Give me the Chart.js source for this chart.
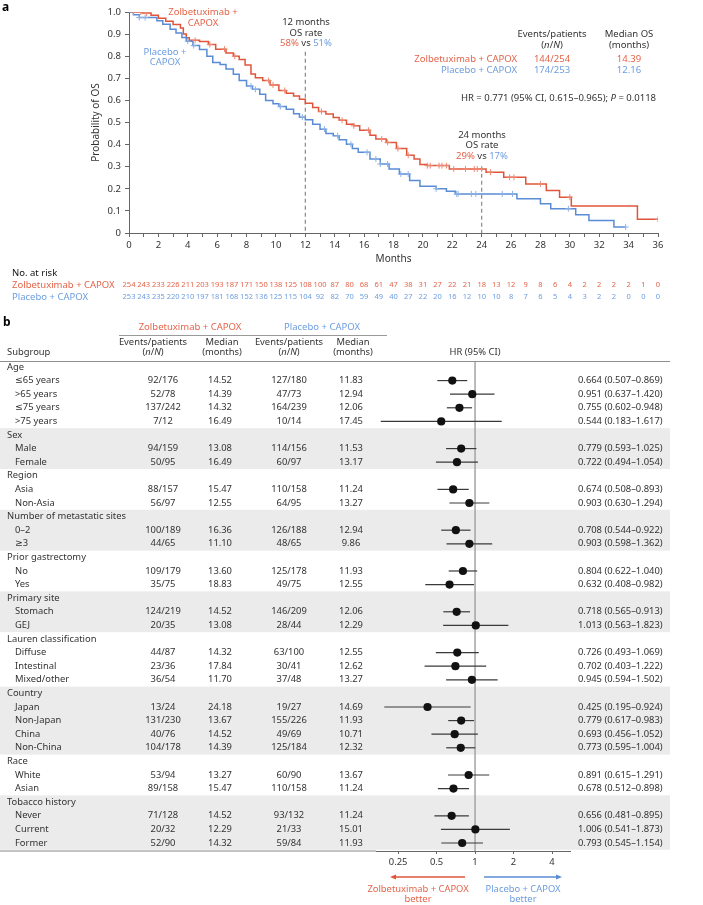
<!DOCTYPE html>
<html>
<head>
<meta charset="utf-8">
<script src="https://cdn.jsdelivr.net/npm/chart.js"></script>
<style>
  body { margin: 0; background: #fff; }
  #wrap { position: relative; width: 703px; height: 905px; }
  canvas { position: absolute; left: 0; }
</style>
</head>
<body>
<div id="wrap">
  <canvas id="km" width="703" height="310" style="top:0"></canvas>
  <canvas id="forest" width="703" height="595" style="top:310px"></canvas>
</div>
<script>
// ---- panel a: Kaplan-Meier data ----
const zolbeTime = [0, 0.9, 1.5, 2.0, 2.5, 3.0, 3.5, 3.7, 3.9, 4.1, 4.8, 5.4, 5.9, 6.6, 7.1, 7.5, 7.9, 8.3, 8.6, 9.1, 9.6, 10.2, 10.7, 11.2, 11.6, 12.0, 12.5, 12.9, 13.4, 13.9, 14.3, 14.8, 15.3, 15.7, 16.4, 16.8, 17.5, 18.2, 18.9, 19.4, 19.8, 20.3, 21.8, 24.3, 25.5, 27.0, 28.4, 29.3, 30.1, 34.6, 36.0];
const zolbeSurv = [1.0, 0.995, 0.985, 0.972, 0.958, 0.943, 0.928, 0.900, 0.883, 0.872, 0.866, 0.853, 0.832, 0.815, 0.800, 0.785, 0.760, 0.720, 0.703, 0.690, 0.670, 0.645, 0.632, 0.620, 0.605, 0.587, 0.568, 0.550, 0.538, 0.523, 0.510, 0.492, 0.485, 0.465, 0.442, 0.425, 0.410, 0.382, 0.352, 0.335, 0.310, 0.305, 0.290, 0.275, 0.252, 0.222, 0.192, 0.162, 0.122, 0.062, 0.062];
const placeboTime = [0, 0.3, 0.7, 1.9, 2.3, 2.8, 3.2, 3.6, 3.9, 4.35, 4.8, 5.3, 5.7, 6.2, 6.6, 7.1, 7.5, 8.0, 8.4, 8.9, 9.3, 9.8, 10.2, 10.7, 11.2, 11.6, 12.0, 12.5, 13.0, 13.4, 13.9, 14.3, 14.8, 15.2, 15.6, 16.4, 17.1, 17.7, 18.4, 19.1, 19.8, 20.9, 21.6, 22.2, 26.4, 28.0, 28.7, 30.4, 31.3, 33.0, 33.8];
const placeboSurv = [1.0, 0.988, 0.975, 0.960, 0.945, 0.922, 0.905, 0.885, 0.868, 0.848, 0.830, 0.800, 0.772, 0.762, 0.742, 0.718, 0.690, 0.665, 0.650, 0.628, 0.600, 0.585, 0.572, 0.560, 0.540, 0.524, 0.512, 0.492, 0.470, 0.450, 0.440, 0.422, 0.402, 0.382, 0.365, 0.335, 0.312, 0.290, 0.267, 0.237, 0.212, 0.200, 0.189, 0.177, 0.155, 0.132, 0.110, 0.083, 0.057, 0.027, 0.027];
const zolbeCensor = [0.3, 0.8, 1.2, 4.5, 5.5, 6.5, 7.2, 9.5, 9.8, 10.6, 13.1, 14.5, 15.3, 16.3, 17.2, 17.6, 18.3, 19.0, 20.3, 20.5, 21.1, 21.3, 21.6, 22.1, 22.9, 23.5, 23.7, 24.0, 24.6, 25.9, 26.2, 28.0, 30.0, 36.0];
const placeboCensor = [0.7, 1.1, 4.0, 4.4, 8.3, 8.6, 10.3, 11.8, 13.3, 14.2, 15.1, 16.2, 16.8, 17.1, 17.6, 18.5, 19.0, 20.9, 22.3, 22.4, 23.3, 23.6, 25.4, 26.1, 29.9, 33.8];

const riskMonths = Array.from({ length: 37 }, (_, i) => i);
const zolbeRisk = [254, 243, 233, 226, 211, 203, 193, 187, 171, 150, 138, 125, 108, 100, 87, 80, 68, 61, 47, 38, 31, 27, 22, 21, 18, 13, 12, 9, 8, 6, 4, 2, 2, 2, 2, 1, 0];
const placeboRisk = [253, 243, 235, 220, 210, 197, 181, 168, 152, 136, 125, 115, 104, 92, 82, 70, 59, 49, 40, 27, 22, 20, 16, 12, 10, 10, 8, 7, 6, 5, 4, 3, 2, 2, 0, 0, 0];

// ---- panel b: subgroup forest data ----
const groupNames = ['Age', 'Sex', 'Region', 'Number of metastatic sites', 'Prior gastrectomy', 'Primary site', 'Lauren classification', 'Country', 'Race', 'Tobacco history'];
const groupSizes = [4, 2, 2, 2, 2, 2, 3, 4, 2, 3];
const subgroupNames = ['≤65 years', '>65 years', '≤75 years', '>75 years', 'Male', 'Female', 'Asia', 'Non-Asia', '0–2', '≥3', 'No', 'Yes', 'Stomach', 'GEJ', 'Diffuse', 'Intestinal', 'Mixed/other', 'Japan', 'Non-Japan', 'China', 'Non-China', 'White', 'Asian', 'Never', 'Current', 'Former'];
const zolbeEvents = ['92/176', '52/78', '137/242', '7/12', '94/159', '50/95', '88/157', '56/97', '100/189', '44/65', '109/179', '35/75', '124/219', '20/35', '44/87', '23/36', '36/54', '13/24', '131/230', '40/76', '104/178', '53/94', '89/158', '71/128', '20/32', '52/90'];
const zolbeMedian = ['14.52', '14.39', '14.32', '16.49', '13.08', '16.49', '15.47', '12.55', '16.36', '11.10', '13.60', '18.83', '14.52', '13.08', '14.32', '17.84', '11.70', '24.18', '13.67', '14.52', '14.39', '13.27', '15.47', '14.52', '12.29', '14.32'];
const placeboEvents = ['127/180', '47/73', '164/239', '10/14', '114/156', '60/97', '110/158', '64/95', '126/188', '48/65', '125/178', '49/75', '146/209', '28/44', '63/100', '30/41', '37/48', '19/27', '155/226', '49/69', '125/184', '60/90', '110/158', '93/132', '21/33', '59/84'];
const placeboMedian = ['11.83', '12.94', '12.06', '17.45', '11.53', '13.17', '11.24', '13.27', '12.94', '9.86', '11.93', '12.55', '12.06', '12.29', '12.55', '12.62', '13.27', '14.69', '11.93', '10.71', '12.32', '13.67', '11.24', '11.24', '15.01', '11.93'];
const hrValue = [0.664, 0.951, 0.755, 0.544, 0.779, 0.722, 0.674, 0.903, 0.708, 0.903, 0.804, 0.632, 0.718, 1.013, 0.726, 0.702, 0.945, 0.425, 0.779, 0.693, 0.773, 0.891, 0.678, 0.656, 1.006, 0.793];
const hrLow = [0.507, 0.637, 0.602, 0.183, 0.593, 0.494, 0.508, 0.630, 0.544, 0.598, 0.622, 0.408, 0.565, 0.563, 0.493, 0.403, 0.594, 0.195, 0.617, 0.456, 0.595, 0.615, 0.512, 0.481, 0.541, 0.545];
const hrHigh = [0.869, 1.420, 0.948, 1.617, 1.025, 1.054, 0.893, 1.294, 0.922, 1.362, 1.040, 0.982, 0.913, 1.823, 1.069, 1.222, 1.502, 0.924, 0.983, 1.052, 1.004, 1.291, 0.898, 0.895, 1.873, 1.154];
const hrTicks = [0.25, 0.5, 1, 2, 4];

const RED = '#e0553a';
const RED_TEXT = '#e4644a';
const RED_LIGHT = '#ec8a74';
const BLUE = '#5a8cd6';
const BLUE_TEXT = '#6d9de0';
const BLUE_LIGHT = '#8db2e6';
const DARK = '#333';
const FONT = '"Noto Sans", "DejaVu Sans", sans-serif';

function font(size, italic, bold) {
    return `${italic ? 'italic ' : ''}${bold ? 'bold ' : ''}${size}px ${FONT}`;
}

// draw a line of text made of several coloured / italic pieces
function drawRich(ctx, parts, x, y, align, size) {
    const widths = parts.map(p => { ctx.font = font(size, p[2]); return ctx.measureText(p[0]).width; });
    const total = widths.reduce((a, b) => a + b, 0);
    let cx = align === 'center' ? x - total / 2 : align === 'right' ? x - total : x;
    ctx.textAlign = 'left';
    ctx.textBaseline = 'middle';
    parts.forEach((p, i) => {
        ctx.font = font(size, p[2]);
        ctx.fillStyle = p[1];
        ctx.fillText(p[0], cx, y);
        cx += widths[i];
    });
}

function toPoints(times, surv) {
    return times.map((t, i) => ({ x: t, y: surv[i] }));
}

// survival value at a censor time, looked up from the step data
function censorPoints(censor, times, surv) {
    return censor.map(t => {
        let s = surv[0];
        for (let i = 0; i < times.length; i++) if (times[i] <= t) s = surv[i];
        return { x: t, y: s };
    });
}

// ---------- panel a ----------
const kmText = {
    id: 'kmText',
    beforeDatasetsDraw(chart) {
        const { ctx, scales: { x, y } } = chart;
        ctx.save();
        ctx.strokeStyle = '#8a8a8a';
        ctx.lineWidth = 1.2;
        ctx.setLineDash([4, 3]);
        [[12, 0.82], [24, 0.30]].forEach(([m, top]) => {
            ctx.beginPath();
            ctx.moveTo(x.getPixelForValue(m), y.getPixelForValue(top));
            ctx.lineTo(x.getPixelForValue(m), y.getPixelForValue(0));
            ctx.stroke();
        });
        ctx.restore();
    },
    afterDraw(chart) {
        const { ctx, scales: { x } } = chart;
        ctx.save();
        const s = 9.5;
        ctx.font = font(12, false, true);
        ctx.fillStyle = '#000';
        ctx.textAlign = 'left';
        ctx.textBaseline = 'middle';
        ctx.fillText('a', 2, 8);

        drawRich(ctx, [['Zolbetuximab +', RED_TEXT]], 203, 12.5, 'center', s);
        drawRich(ctx, [['CAPOX', RED_TEXT]], 203, 23, 'center', s);
        drawRich(ctx, [['Placebo +', BLUE_TEXT]], 165, 52, 'center', s);
        drawRich(ctx, [['CAPOX', BLUE_TEXT]], 165, 62, 'center', s);

        drawRich(ctx, [['12 months', DARK]], 306, 22.5, 'center', s);
        drawRich(ctx, [['OS rate', DARK]], 306, 33, 'center', s);
        drawRich(ctx, [['58%', RED_TEXT], [' vs ', DARK], ['51%', BLUE_TEXT]], 306, 43, 'center', s);
        drawRich(ctx, [['24 months', DARK]], 482, 135, 'center', s);
        drawRich(ctx, [['OS rate', DARK]], 482, 145.7, 'center', s);
        drawRich(ctx, [['29%', RED_TEXT], [' vs ', DARK], ['17%', BLUE_TEXT]], 482, 156, 'center', s);

        drawRich(ctx, [['Events/patients', DARK]], 552, 34.5, 'center', s);
        drawRich(ctx, [['(', DARK], ['n', DARK, true], ['/', DARK], ['N', DARK, true], [')', DARK]], 552, 45, 'center', s);
        drawRich(ctx, [['Median OS', DARK]], 629, 34.5, 'center', s);
        drawRich(ctx, [['(months)', DARK]], 629, 45, 'center', s);
        drawRich(ctx, [['Zolbetuximab + CAPOX', RED_TEXT]], 517, 59, 'right', s);
        drawRich(ctx, [['144/254', RED_TEXT]], 552, 59, 'center', s);
        drawRich(ctx, [['14.39', RED_TEXT]], 629, 59, 'center', s);
        drawRich(ctx, [['Placebo + CAPOX', BLUE_TEXT]], 517, 70, 'right', s);
        drawRich(ctx, [['174/253', BLUE_TEXT]], 552, 70, 'center', s);
        drawRich(ctx, [['12.16', BLUE_TEXT]], 629, 70, 'center', s);
        drawRich(ctx, [['HR = 0.771 (95% CI, 0.615–0.965); ', DARK], ['P', DARK, true], [' = 0.0118', DARK]], 656, 98, 'right', s);

        // number at risk
        drawRich(ctx, [['No. at risk', '#111']], 12, 273, 'left', s);
        drawRich(ctx, [['Zolbetuximab + CAPOX', RED_TEXT]], 12, 285, 'left', s);
        drawRich(ctx, [['Placebo + CAPOX', BLUE_TEXT]], 12, 297, 'left', s);
        ctx.font = font(7.5);
        ctx.textAlign = 'center';
        ctx.textBaseline = 'middle';
        riskMonths.forEach((m, i) => {
            const px = x.getPixelForValue(m);
            ctx.fillStyle = RED_TEXT;
            ctx.fillText(String(zolbeRisk[i]), px, 285);
            ctx.fillStyle = BLUE_TEXT;
            ctx.fillText(String(placeboRisk[i]), px, 297);
        });
        ctx.restore();
    }
};

new Chart(document.getElementById('km'), {
    type: 'scatter',
    data: {
        datasets: [
            { data: censorPoints(zolbeCensor, zolbeTime, zolbeSurv), showLine: false, pointStyle: 'cross', pointRadius: 3, borderColor: RED_LIGHT, borderWidth: 1 },
            { data: censorPoints(placeboCensor, placeboTime, placeboSurv), showLine: false, pointStyle: 'cross', pointRadius: 3, borderColor: BLUE_LIGHT, borderWidth: 1 },
            { data: toPoints(placeboTime, placeboSurv), showLine: true, stepped: 'before', borderColor: BLUE, borderWidth: 1.5, pointRadius: 0 },
            { data: toPoints(zolbeTime, zolbeSurv), showLine: true, stepped: 'before', borderColor: RED, borderWidth: 1.5, pointRadius: 0 }
        ]
    },
    options: {
        responsive: false,
        animation: false,
        layout: { padding: { left: 90, right: 45, top: 12, bottom: 45 } },
        plugins: { legend: { display: false }, tooltip: { enabled: false } },
        scales: {
            x: {
                type: 'linear', min: 0, max: 36,
                ticks: { stepSize: 1, autoSkip: false, maxRotation: 0, padding: 3, color: DARK, font: { family: FONT, size: 9.5 },
                    callback: v => (v % 2 === 0 ? String(v) : '') },
                grid: { drawOnChartArea: false, tickLength: 4, color: '#666' },
                border: { color: '#666' },
                title: { display: true, text: 'Months', color: DARK, padding: 0, font: { family: FONT, size: 10 } },
                afterFit: s => { s.height = 32; }
            },
            y: {
                min: 0, max: 1,
                ticks: { stepSize: 0.1, padding: 4, color: DARK, font: { family: FONT, size: 9.5 },
                    callback: v => (v === 0 ? '0' : v.toFixed(1)) },
                grid: { drawOnChartArea: false, tickLength: 4, color: '#666' },
                border: { color: '#666' },
                title: { display: true, text: 'Probability of OS', color: DARK, padding: 0, font: { family: FONT, size: 10 } },
                afterFit: s => { s.width = 39; }
            }
        }
    },
    plugins: [kmText]
});

// ---------- panel b ----------
const rows = [];
let k = 0;
groupNames.forEach((g, gi) => {
    rows.push({ label: g, group: gi, header: true });
    for (let j = 0; j < groupSizes[gi]; j++) {
        rows.push({ label: subgroupNames[k], group: gi, idx: k });
        k++;
    }
});
rows.forEach((r, i) => { r.row = i; });
const itemRows = rows.filter(r => !r.header);

const TOP = 10; // canvas starts 10px above the panel b header

const forestDecor = {
    id: 'forestDecor',
    beforeDraw(chart) {
        const { ctx, scales: { y }, chartArea } = chart;
        ctx.save();
        ctx.fillStyle = '#ebebeb';
        groupNames.forEach((g, gi) => {
            if (gi % 2 === 0) return;
            const gr = rows.filter(r => r.group === gi);
            const y0 = y.getPixelForValue(gr[0].row - 0.5);
            const y1 = Math.min(y.getPixelForValue(gr[gr.length - 1].row + 0.5), chartArea.bottom);
            ctx.fillRect(0, y0, 670, y1 - y0);
        });
        ctx.restore();
    },
    beforeDatasetsDraw(chart) {
        const { ctx, scales: { x, y }, chartArea } = chart;
        ctx.save();
        // reference line at HR = 1
        ctx.strokeStyle = '#a3a3a3';
        ctx.lineWidth = 1.5;
        ctx.beginPath();
        ctx.moveTo(x.getPixelForValue(1), chartArea.top);
        ctx.lineTo(x.getPixelForValue(1), chartArea.bottom);
        ctx.stroke();
        // confidence intervals
        ctx.strokeStyle = '#3a3a3a';
        ctx.lineWidth = 1.2;
        itemRows.forEach(r => {
            const py = y.getPixelForValue(r.row);
            ctx.beginPath();
            ctx.moveTo(x.getPixelForValue(hrLow[r.idx]), py);
            ctx.lineTo(x.getPixelForValue(hrHigh[r.idx]), py);
            ctx.stroke();
        });
        ctx.restore();
    },
    afterDraw(chart) {
        const { ctx, scales: { x, y }, chartArea } = chart;
        const s = 9.4;
        ctx.save();
        ctx.font = font(12, false, true);
        ctx.fillStyle = '#000';
        ctx.textAlign = 'left';
        ctx.textBaseline = 'middle';
        ctx.fillText('b', 3, TOP + 3);

        // header
        drawRich(ctx, [['Zolbetuximab + CAPOX', RED_TEXT]], 190, TOP + 7, 'center', 9.5);
        drawRich(ctx, [['Placebo + CAPOX', BLUE_TEXT]], 322, TOP + 7, 'center', 9.5);
        ctx.strokeStyle = '#9a9a9a';
        ctx.lineWidth = 1;
        ctx.beginPath();
        ctx.moveTo(119, TOP + 15.5);
        ctx.lineTo(387, TOP + 15.5);
        ctx.stroke();
        [[153, 222], [289, 353]].forEach(([ev, md]) => {
            drawRich(ctx, [['Events/patients', DARK]], ev, TOP + 22, 'center', s);
            drawRich(ctx, [['(', DARK], ['n', DARK, true], ['/', DARK], ['N', DARK, true], [')', DARK]], ev, TOP + 32, 'center', s);
            drawRich(ctx, [['Median', DARK]], md, TOP + 22, 'center', s);
            drawRich(ctx, [['(months)', DARK]], md, TOP + 32, 'center', s);
        });
        drawRich(ctx, [['Subgroup', DARK]], 7, TOP + 32, 'left', s);
        drawRich(ctx, [['HR (95% CI)', DARK]], x.getPixelForValue(1), TOP + 32, 'center', s);

        ctx.strokeStyle = '#8f8f8f';
        ctx.lineWidth = 1;
        ctx.beginPath();
        ctx.moveTo(0, chartArea.top + 0.5);
        ctx.lineTo(670, chartArea.top + 0.5);
        ctx.stroke();
        ctx.strokeStyle = '#b0b0b0';
        ctx.lineWidth = 1.5;
        ctx.beginPath();
        ctx.moveTo(0, chartArea.bottom);
        ctx.lineTo(chartArea.left, chartArea.bottom);
        ctx.stroke();

        // rows
        rows.forEach(r => {
            const py = y.getPixelForValue(r.row);
            if (r.header) {
                drawRich(ctx, [[r.label, DARK]], 7, py, 'left', s);
                return;
            }
            const i = r.idx;
            drawRich(ctx, [[r.label, DARK]], 15, py, 'left', s);
            drawRich(ctx, [[zolbeEvents[i], DARK]], 163, py, 'center', s);
            drawRich(ctx, [[zolbeMedian[i], DARK]], 220, py, 'center', s);
            drawRich(ctx, [[placeboEvents[i], DARK]], 289, py, 'center', s);
            drawRich(ctx, [[placeboMedian[i], DARK]], 351, py, 'center', s);
            const txt = `${hrValue[i].toFixed(3)} (${hrLow[i].toFixed(3)}–${hrHigh[i].toFixed(3)})`;
            drawRich(ctx, [[txt, DARK]], 578, py, 'left', s);
        });

        // favour arrows
        const x1 = x.getPixelForValue(1);
        const ay = chartArea.bottom + 26;
        function arrow(from, to, color) {
            const dir = Math.sign(to - from);
            ctx.strokeStyle = color;
            ctx.fillStyle = color;
            ctx.lineWidth = 1.3;
            ctx.beginPath();
            ctx.moveTo(from, ay);
            ctx.lineTo(to - dir * 4, ay);
            ctx.stroke();
            ctx.beginPath();
            ctx.moveTo(to, ay);
            ctx.lineTo(to - dir * 6, ay - 2.5);
            ctx.lineTo(to - dir * 6, ay + 2.5);
            ctx.closePath();
            ctx.fill();
        }
        arrow(x1 - 10, x1 - 85, RED);
        arrow(x1 + 9, x1 + 87, BLUE);
        drawRich(ctx, [['Zolbetuximab + CAPOX', RED_TEXT]], x1 - 57, ay + 12, 'center', s);
        drawRich(ctx, [['better', RED_TEXT]], x1 - 57, ay + 22, 'center', s);
        drawRich(ctx, [['Placebo + CAPOX', BLUE_TEXT]], x1 + 48, ay + 12, 'center', s);
        drawRich(ctx, [['better', BLUE_TEXT]], x1 + 48, ay + 22, 'center', s);
        ctx.restore();
    }
};

new Chart(document.getElementById('forest'), {
    type: 'scatter',
    data: {
        datasets: [{
            data: itemRows.map(r => ({ x: hrValue[r.idx], y: r.row })),
            pointRadius: 4.1,
            backgroundColor: '#111',
            borderColor: '#111',
            borderWidth: 0
        }]
    },
    options: {
        responsive: false,
        animation: false,
        layout: { padding: { left: 376, right: 133, top: 51, bottom: 34 } },
        plugins: { legend: { display: false }, tooltip: { enabled: false } },
        scales: {
            x: {
                type: 'logarithmic', min: 0.168, max: 5.53,
                afterBuildTicks: s => { s.ticks = hrTicks.map(v => ({ value: v })); },
                ticks: { autoSkip: false, maxRotation: 0, padding: 3, color: DARK, font: { family: FONT, size: 9.4 },
                    callback: v => String(v) },
                grid: { drawOnChartArea: false, tickLength: 3, color: '#666' },
                border: { color: '#666' },
                afterFit: s => { s.height = 20; }
            },
            y: { type: 'linear', reverse: true, min: -0.44, max: 35.59, display: false }
        }
    },
    plugins: [forestDecor]
});
</script>
</body>
</html>
